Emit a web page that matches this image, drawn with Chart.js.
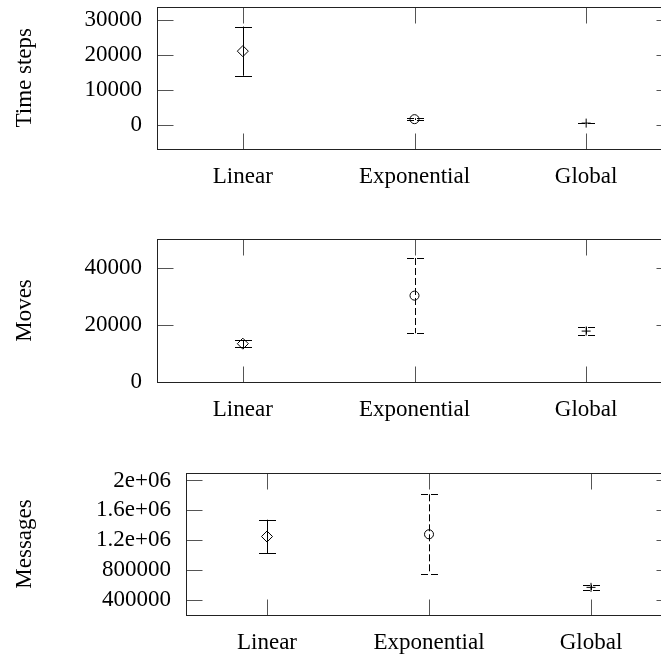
<!DOCTYPE html>
<html>
<head>
<meta charset="utf-8">
<script src="https://cdn.jsdelivr.net/npm/chart.js@4/dist/chart.umd.min.js"></script>
<style>
  body { margin: 0; background: #fff; overflow: hidden; width: 661px; height: 658px; }
  .panel { position: absolute; left: 0; }
</style>
</head>
<body>
<div class="panel" style="top:0px"><canvas id="timeChart" width="680" height="200"></canvas></div>
<div class="panel" style="top:230px"><canvas id="movesChart" width="680" height="200"></canvas></div>
<div class="panel" style="top:460px"><canvas id="msgChart" width="680" height="198"></canvas></div>
<script>
// categories
const categories = ["Linear", "Exponential", "Global"];

// Time steps (mean and error)
const timeSteps = [21200, 1700, 570];
const timeStepsErr = [7050, 250, 60];
const timeTicks = [0, 10000, 20000, 30000];
const timeTickLabels = ["0", "10000", "20000", "30000"];

// Moves
const moves = [13400, 30200, 17800];
const movesErr = [1150, 13150, 1500];
const movesTicks = [0, 20000, 40000];
const movesTickLabels = ["0", "20000", "40000"];

// Messages
const messages = [1250000, 1280000, 570000];
const messagesErr = [225000, 535000, 35000];
const msgTicks = [400000, 800000, 1200000, 1600000, 2000000];
const msgTickLabels = ["400000", "800000", "1.2e+06", "1.6e+06", "2e+06"];

const markerStyles = ["rectRot", "circle", "cross"];
const markerSizes = [5.5, 4.5, 4.5];
const barDashes = [[], [7, 3], [7, 3]];

const FONT = "'Liberation Serif', 'Times New Roman', serif";

// error bars + gnuplot style frame with inward ticks
const gnuplotLook = {
  id: "gnuplotLook",
  beforeDatasetsDraw(chart, args, opts) {
    const ctx = chart.ctx;
    const x = chart.scales.x, y = chart.scales.y;
    const vals = opts.values, errs = opts.errors;
    ctx.save();
    ctx.strokeStyle = "#000";
    ctx.lineWidth = 1;
    for (let i = 0; i < vals.length; i++) {
      const px = Math.round(x.getPixelForValue(i)) + 0.5;
      const top = y.getPixelForValue(vals[i] + errs[i]);
      const bot = y.getPixelForValue(vals[i] - errs[i]);
      ctx.setLineDash(barDashes[i]);
      ctx.beginPath();
      ctx.moveTo(px, top);
      ctx.lineTo(px, bot);
      ctx.stroke();
      ctx.beginPath();
      ctx.moveTo(px - 8.5, Math.round(top) + 0.5);
      ctx.lineTo(px + 8.5, Math.round(top) + 0.5);
      ctx.moveTo(px - 8.5, Math.round(bot) + 0.5);
      ctx.lineTo(px + 8.5, Math.round(bot) + 0.5);
      ctx.stroke();
    }
    ctx.restore();
  },
  afterDraw(chart) {
    const ctx = chart.ctx;
    const a = chart.chartArea;
    const x = chart.scales.x, y = chart.scales.y;
    const L = Math.round(a.left) + 0.5, R = Math.round(a.right) + 0.5;
    const T = Math.round(a.top) + 0.5, B = Math.round(a.bottom) + 0.5;
    ctx.save();
    ctx.lineWidth = 1;
    ctx.strokeStyle = "#555";
    ctx.beginPath();
    y.ticks.forEach(t => {
      const py = Math.round(y.getPixelForValue(t.value)) + 0.5;
      ctx.moveTo(L, py); ctx.lineTo(L + 16, py);
      ctx.moveTo(R, py); ctx.lineTo(R - 16, py);
    });
    x.ticks.forEach((t, i) => {
      const px = Math.round(x.getPixelForTick(i)) + 0.5;
      ctx.moveTo(px, B); ctx.lineTo(px, B - 16);
      ctx.moveTo(px, T); ctx.lineTo(px, T + 16);
    });
    ctx.stroke();
    ctx.strokeStyle = "#222";
    ctx.strokeRect(L, T, R - L, B - T);
    ctx.restore();
  }
};

function makePanel(id, values, errors, yMin, yMax, tickVals, tickLabels, title, yWidth, xHeight, padTop) {
  return new Chart(document.getElementById(id), {
    type: "line",
    data: {
      labels: categories,
      datasets: [{
        data: values,
        showLine: false,
        pointStyle: markerStyles,
        pointRadius: markerSizes,
        pointBorderWidth: 1,
        borderColor: "#000",
        backgroundColor: "rgba(0,0,0,0)"
      }]
    },
    options: {
      responsive: false,
      animation: false,
      devicePixelRatio: 1,
      events: [],
      layout: { padding: { top: padTop, right: 8, left: 0, bottom: 0 } },
      plugins: {
        legend: { display: false },
        tooltip: { enabled: false },
        gnuplotLook: { values: values, errors: errors }
      },
      scales: {
        x: {
          type: "category",
          offset: true,
          grid: { display: false, drawTicks: false },
          border: { display: false },
          ticks: { color: "#000", padding: 14, maxRotation: 0, font: { family: FONT, size: 23 } },
          afterFit: s => { s.height = xHeight; s.paddingLeft = 0; s.paddingRight = 0; }
        },
        y: {
          min: yMin,
          max: yMax,
          grid: { display: false, drawTicks: false },
          border: { display: false },
          afterBuildTicks: s => { s.ticks = tickVals.map(v => ({ value: v })); },
          ticks: {
            color: "#000",
            padding: 15,
            font: { family: FONT, size: 23 },
            callback: (v) => tickLabels[tickVals.indexOf(v)]
          },
          title: {
            display: true,
            text: title,
            color: "#000",
            padding: { top: 11, bottom: 0 },
            font: { family: FONT, size: 23 }
          },
          afterFit: s => { s.width = yWidth; s.paddingTop = 0; s.paddingBottom = 0; }
        }
      }
    },
    plugins: [gnuplotLook]
  });
}

makePanel("timeChart", timeSteps, timeStepsErr, -6857, 34000, timeTicks, timeTickLabels, "Time steps", 157, 51, 6);
makePanel("movesChart", moves, movesErr, 0, 50000, movesTicks, movesTickLabels, "Moves", 157, 48, 9);
makePanel("msgChart", messages, messagesErr, 200000, 2100000, msgTicks, msgTickLabels, "Messages", 186, 43, 13);
</script>
</body>
</html>
